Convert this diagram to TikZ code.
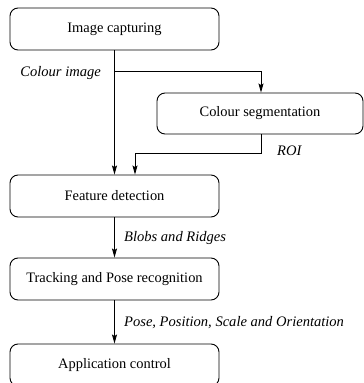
\documentclass[tikz,border=0pt]{standalone}
\usepackage{fontspec}
\setmainfont{Liberation Serif}
\usetikzlibrary{arrows.meta}
\begin{document}
\begin{tikzpicture}[x=1bp,y=-1bp,
  stepbox/.style={draw, rounded corners=8bp, line width=0.9bp, minimum width=209bp, minimum height=42bp, inner sep=0pt, font=\fontsize{14.5}{16}\selectfont},
  lbl/.style={font=\fontsize{14.6}{16}\selectfont\itshape, inner sep=0pt},
  conn/.style={line width=0.9bp, -{Stealth[length=9bp,width=5bp,inset=1.5bp]}}]
\useasboundingbox (0,0) rectangle (364,383);
\node[stepbox] (cap) at (114.5,29) {Image capturing};
\node[stepbox, minimum width=206bp, minimum height=41bp] (seg) at (260,113.5) {Colour segmentation};
\node[stepbox] (feat) at (114.5,196) {Feature detection};
\node[stepbox] (track) at (114.5,279) {Tracking and Pose recognition};
\node[stepbox] (app) at (114.5,365) {Application control};
\coordinate (br) at (114.5,71);
\coordinate (roiA) at (261,153);
\coordinate (roiB) at (135,153);
\draw[conn] (cap.south) -- (feat.north);
\draw[conn] (br) -| (seg.north -| 261,0);
\draw[conn] (seg.south -| roiA) -- (roiA) -- (roiB) -- (roiB |- feat.north);
\draw[conn] (feat.south) -- (track.north);
\draw[conn] (track.south) -- (app.north);
\node[lbl, anchor=east] (l1) at (101,73) {Colour image};
\node[lbl, anchor=west] (l2) at (277,151) {ROI};
\node[lbl, anchor=west] (l3) at (124,238) {Blobs and Ridges};
\node[lbl, anchor=west] (l4) at (124,323) {Pose, Position, Scale and Orientation};
\end{tikzpicture}
\end{document}
